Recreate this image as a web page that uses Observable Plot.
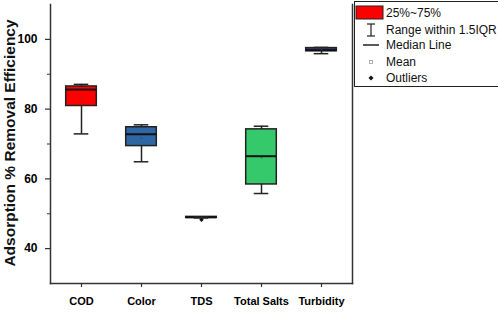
<!DOCTYPE html>
<html>
<head>
<meta charset="utf-8">
<script src="https://cdn.jsdelivr.net/npm/d3@7"></script>
<script src="https://cdn.jsdelivr.net/npm/@observablehq/plot@0.6"></script>
<style>
  html, body { margin: 0; padding: 0; background: #fff; overflow: hidden; }
  #wrap { position: relative; width: 498px; height: 312px; overflow: hidden; font-family: "Liberation Sans", Arial, sans-serif; }
  #wrap svg.plot { position: absolute; left: 0; top: 0; }
  #ytitle { position: absolute; left: 10px; top: 143px; transform: translate(-50%, -50%) rotate(-90deg); white-space: nowrap; font-weight: bold; font-size: 15.5px; color: #111; }
  #legend { position: absolute; left: 354px; top: 1px; width: 170px; height: 86px; border: 1px solid #222; box-sizing: border-box; background: #fff; }
  #legend svg { position: absolute; left: 0; top: 0; }
</style>
</head>
<body>
<div id="wrap">
  <div id="ytitle">Adsorption % Removal Efficiency</div>
  <div id="legend"></div>
</div>
<script>
// ---- data ----
const categories   = ["COD", "Color", "TDS", "Total Salts", "Turbidity"];
const whiskerLow   = [72.9, 64.9, 48.8, 55.8, 95.9];
const q1           = [80.9, 69.4, 48.8, 58.4, 96.6];
const medians      = [85.6, 72.8, 49.0, 66.5, 96.9];
const q3           = [86.5, 74.8, 49.1, 74.2, 97.5];
const whiskerHigh  = [87.1, 75.5, 49.1, 75.1, 97.7];
const means        = [83.0, 71.7, 48.9, 66.1, 97.0];
const boxColors    = ["#ff0000", "#2f66a4", "#3a3a7a", "#36c96c", "#3c3a7c"];
const outlierCats  = ["TDS"];
const outlierVals  = [48.3];
const yMajorTicks  = [40, 60, 80, 100];
const yMinorTicks  = [50, 70, 90];
const legendLabels = ["25%~75%", "Range within 1.5IQR", "Median Line", "Mean", "Outliers"];

const boxes = categories.map((c, i) => ({
  cat: c, lo: whiskerLow[i], q1: q1[i], med: medians[i], q3: q3[i], hi: whiskerHigh[i], mean: means[i], color: boxColors[i]
}));
const outliers = outlierCats.map((c, i) => ({cat: c, v: outlierVals[i]}));

const axisStroke = "#333";

const chart = Plot.plot({
  width: 498,
  height: 312,
  marginLeft: 50,
  marginRight: 146,
  marginTop: 4,
  marginBottom: 29,
  style: {fontFamily: "'Liberation Sans', Arial, sans-serif", color: "#000", background: "transparent"},
  x: {type: "band", domain: categories, padding: 0, label: null, axis: null},
  y: {domain: [30, 110], label: null, axis: null},
  marks: [
    Plot.frame({anchor: "left", stroke: axisStroke, strokeWidth: 1.5}),
    Plot.frame({anchor: "bottom", stroke: axisStroke, strokeWidth: 1.5}),
    Plot.frame({anchor: "right", stroke: axisStroke, strokeWidth: 1.5}),
    Plot.axisY({ticks: yMajorTicks, tickSize: 5, tickPadding: 8, fontSize: 12, fontWeight: "bold", stroke: axisStroke, strokeWidth: 1.2, label: null}),
    Plot.axisY({ticks: yMinorTicks, tickSize: 3, text: null, tickFormat: () => "", stroke: axisStroke, strokeWidth: 1, label: null}),
    Plot.axisX({tickSize: 4, tickPadding: 10, fontSize: 11, fontWeight: "bold", stroke: axisStroke, strokeWidth: 1.2, label: null}),
    Plot.ruleX(boxes, {x: "cat", y1: "lo", y2: "hi", stroke: "#222", strokeWidth: 1.5}),
    Plot.rect(boxes, {x: "cat", y1: "q1", y2: "q3", fill: "color", stroke: "#222", strokeWidth: 1.5, insetLeft: 14.7, insetRight: 14.7}),
    Plot.tickY(boxes, {x: "cat", y: "med", stroke: "#111", strokeWidth: 2, insetLeft: 14.7, insetRight: 14.7}),
    Plot.tickY(boxes, {x: "cat", y: "hi", stroke: "#222", strokeWidth: 1.5, insetLeft: 22.7, insetRight: 22.7}),
    Plot.tickY(boxes, {x: "cat", y: "lo", stroke: "#222", strokeWidth: 1.5, insetLeft: 22.7, insetRight: 22.7}),
    Plot.dot(boxes, {x: "cat", y: "mean", symbol: "square", r: 1, fill: "#444", fillOpacity: 0.6}),
    Plot.dot(outliers, {x: "cat", y: "v", symbol: "diamond2", r: 2, fill: "#111"})
  ]
});
chart.classList.add("plot");
document.getElementById("wrap").insertBefore(chart, document.getElementById("ytitle"));

// ---- legend ----
const lg = d3.select("#legend").append("svg").attr("width", 170).attr("height", 86);
const rowY = [11, 28, 43, 60, 76];
const symX = 16;
lg.append("rect").attr("x", 1).attr("y", 4).attr("width", 27).attr("height", 13)
  .attr("fill", boxColors[0]).attr("stroke", "#222").attr("stroke-width", 1);
lg.append("line").attr("x1", symX).attr("x2", symX).attr("y1", rowY[1] - 6).attr("y2", rowY[1] + 6).attr("stroke", "#222").attr("stroke-width", 1.2);
lg.append("line").attr("x1", symX - 4).attr("x2", symX + 4).attr("y1", rowY[1] - 6).attr("y2", rowY[1] - 6).attr("stroke", "#222").attr("stroke-width", 1.2);
lg.append("line").attr("x1", symX - 4).attr("x2", symX + 4).attr("y1", rowY[1] + 6).attr("y2", rowY[1] + 6).attr("stroke", "#222").attr("stroke-width", 1.2);
lg.append("line").attr("x1", symX - 8).attr("x2", symX + 8).attr("y1", rowY[2]).attr("y2", rowY[2]).attr("stroke", "#222").attr("stroke-width", 1.5);
lg.append("rect").attr("x", symX - 1.5).attr("y", rowY[3] - 1.5).attr("width", 3).attr("height", 3).attr("fill", "none").attr("stroke", "#999").attr("stroke-width", 0.8);
lg.append("path").attr("d", `M${symX},${rowY[4]-2.5}L${symX+2.5},${rowY[4]}L${symX},${rowY[4]+2.5}L${symX-2.5},${rowY[4]}Z`).attr("fill", "#111");
legendLabels.forEach((t, i) => {
  lg.append("text").attr("x", 31).attr("y", rowY[i]).attr("dy", "0.35em")
    .attr("font-size", 12).attr("font-family", "'Liberation Sans', Arial, sans-serif").attr("fill", "#111").text(t);
});
</script>
</body>
</html>
